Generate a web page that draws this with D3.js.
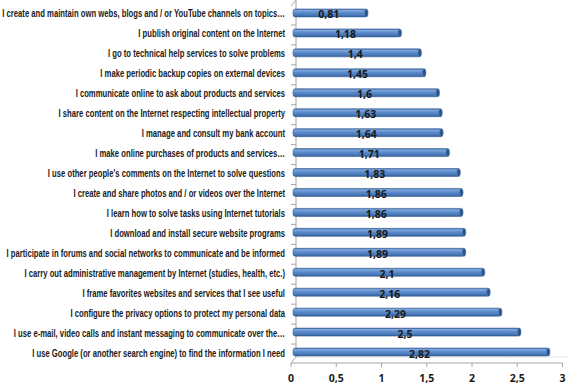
<!DOCTYPE html>
<html>
<head>
<meta charset="utf-8">
<script src="https://cdn.jsdelivr.net/npm/d3@7"></script>
<style>
  body { margin: 0; background: #fff; }
  svg { display: block; }
  .cat { font-family: "Liberation Sans", Arial, sans-serif; font-weight: bold; font-size: 10px; fill: #1a1a1a; }
  .val { font-family: "Open Sans", "Liberation Sans", sans-serif; font-weight: bold; font-size: 10.5px; fill: #1a1a1a; }
  .tick-lbl { font-family: "Open Sans", "Liberation Sans", sans-serif; font-weight: bold; font-size: 10.5px; fill: #1a1a1a; }
</style>
</head>
<body>
<svg id="chart"></svg>
<script>
// chart data, top bar first
const categories = [
  "I create and maintain own webs, blogs and / or YouTube channels on topics…",
  "I publish original content on the Internet",
  "I go to technical help services to solve problems",
  "I make periodic backup copies on external devices",
  "I communicate online to ask about products and services",
  "I share content on the Internet respecting intellectual property",
  "I manage and consult my bank account",
  "I make online purchases of products and services…",
  "I use other people's comments on the Internet to solve questions",
  "I create and share photos and / or videos over the Internet",
  "I learn how to solve tasks using Internet tutorials",
  "I download and install secure website programs",
  "I participate in forums and social networks to communicate and be informed",
  "I carry out administrative management by Internet (studies, health, etc.)",
  "I frame favorites websites and services that I see useful",
  "I configure the privacy options to protect my personal data",
  "I use e-mail, video calls and instant messaging to communicate over the…",
  "I use Google (or another search engine) to find the information I need"
];
const values = [0.81, 1.18, 1.4, 1.45, 1.6, 1.63, 1.64, 1.71, 1.83, 1.86, 1.86, 1.89, 1.89, 2.1, 2.16, 2.29, 2.5, 2.82];
const xTicks = [0, 0.5, 1, 1.5, 2, 2.5, 3];

const width = 567, height = 388;
const svg = d3.select("#chart").attr("width", width).attr("height", height);

const x = d3.scaleLinear().domain([0, 3]).range([291, 562.5]);
const y = d3.scaleBand().domain(categories).range([4, 363]);

// 3D depth offset
const dx = 5, dy = -6;
const barH = 8;

const fmt = v => String(v).replace(".", ",");

// bar gradient
const defs = svg.append("defs");
const grad = defs.append("linearGradient")
  .attr("id", "barGrad")
  .attr("x1", "0%").attr("y1", "0%").attr("x2", "0%").attr("y2", "100%");
grad.append("stop").attr("offset", "0%").attr("stop-color", "#3d6aa5");
grad.append("stop").attr("offset", "18%").attr("stop-color", "#7fa7dd");
grad.append("stop").attr("offset", "45%").attr("stop-color", "#5c8ccc");
grad.append("stop").attr("offset", "80%").attr("stop-color", "#4676b5");
grad.append("stop").attr("offset", "100%").attr("stop-color", "#2f5b93");

// walls / floor
const axisColor = "#a6a6a6";
const x0 = x(0), yBot = y.range()[1];
svg.append("line")
  .attr("x1", x0 + dx).attr("y1", yBot + dy)
  .attr("x2", x(3) + dx).attr("y2", yBot + dy)
  .attr("stroke", "#e3e3e3");
svg.append("line")
  .attr("x1", x0 + dx).attr("y1", y.range()[0] + dy + 2)
  .attr("x2", x0 + dx).attr("y2", yBot + dy)
  .attr("stroke", axisColor);
svg.append("line")
  .attr("x1", x0).attr("y1", y.range()[0] + 2)
  .attr("x2", x0 + dx).attr("y2", y.range()[0] + dy + 2)
  .attr("stroke", axisColor);
svg.append("line")
  .attr("x1", x0).attr("y1", yBot)
  .attr("x2", x0 + dx).attr("y2", yBot + dy)
  .attr("stroke", axisColor);
svg.append("line")
  .attr("x1", x0).attr("y1", yBot)
  .attr("x2", x(3)).attr("y2", yBot)
  .attr("stroke", axisColor);

// category ticks
svg.selectAll("line.ctick")
  .data(categories.slice(1))
  .join("line")
  .attr("class", "ctick")
  .attr("x1", x0).attr("x2", x0 + dx)
  .attr("y1", d => y(d) + 1).attr("y2", d => y(d) + 1)
  .attr("stroke", axisColor);

// x ticks
svg.selectAll("line.xtick")
  .data(xTicks)
  .join("line")
  .attr("class", "xtick")
  .attr("x1", d => x(d)).attr("x2", d => x(d))
  .attr("y1", yBot).attr("y2", yBot + 4)
  .attr("stroke", axisColor);

svg.selectAll("text.tick-lbl")
  .data(xTicks)
  .join("text")
  .attr("class", "tick-lbl")
  .attr("x", d => x(d))
  .attr("y", 382)
  .attr("text-anchor", "middle")
  .text(d => fmt(d));

// bars
const bars = svg.selectAll("g.bar")
  .data(categories.map((c, i) => ({ c, v: values[i] })))
  .join("g")
  .attr("class", "bar")
  .attr("transform", d => `translate(0, ${y(d.c) + y.bandwidth() / 2 - barH / 2 - 1})`);

bars.append("rect")
  .attr("x", x0 + 2)
  .attr("y", 0)
  .attr("width", d => x(d.v) - x0 + 1)
  .attr("height", barH)
  .attr("rx", 2.5)
  .attr("fill", "url(#barGrad)")
  .attr("stroke", "#3a6299")
  .attr("stroke-width", 0.6);

bars.append("ellipse")
  .attr("cx", d => x(d.v) + 2)
  .attr("cy", barH / 2)
  .attr("rx", 1.8)
  .attr("ry", barH / 2)
  .attr("fill", "#2d5286")
  .attr("stroke", "#5f86bb")
  .attr("stroke-width", 0.6);

bars.append("text")
  .attr("class", "val")
  .attr("x", d => (x0 + x(d.v)) / 2 + 1)
  .attr("y", barH + 1.5)
  .attr("text-anchor", "middle")
  .text(d => fmt(d.v));

// category labels - squeezed horizontally to mimic the narrow original font
const catLabels = svg.selectAll("text.cat")
  .data(categories)
  .join("text")
  .attr("class", "cat")
  .attr("x", 0)
  .attr("y", 0)
  .attr("text-anchor", "end")
  .text(d => d);

const longest = d3.max(catLabels.nodes(), n => n.getComputedTextLength());
const squeeze = Math.min(1, 283 / longest);
catLabels.attr("transform", d => `translate(285, ${y(d) + y.bandwidth() / 2 + 3.5}) scale(${squeeze}, 1)`);
</script>
</body>
</html>
